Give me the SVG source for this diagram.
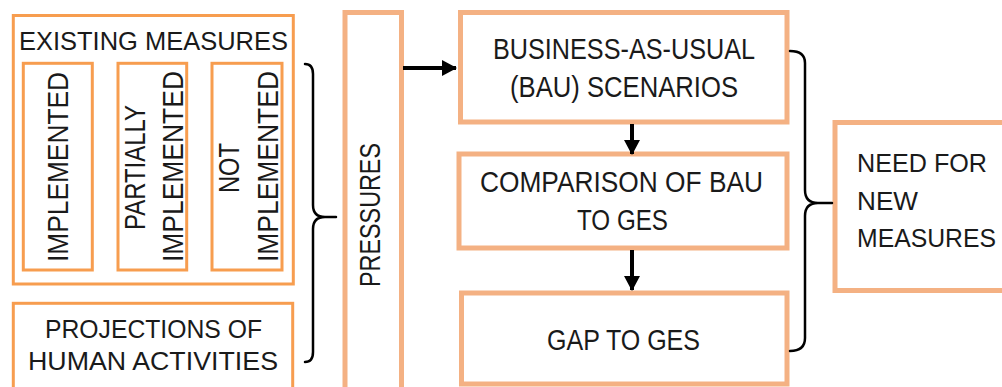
<svg xmlns="http://www.w3.org/2000/svg" width="1002" height="387" viewBox="0 0 1002 387">
<style>
.lbox{fill:#ffffff;stroke:#F79D4F;stroke-width:3}
.rbox{fill:#ffffff;stroke:#F4B183;stroke-width:5}
text{font-family:"Liberation Sans",Arial,sans-serif;fill:#1a1a1a}
.t{text-anchor:middle}
.brace{fill:none;stroke:#000000;stroke-width:2.5;stroke-linecap:round}
.arr{stroke:#000000;stroke-width:4;fill:none}
</style>
<defs>
<marker id="ah" markerUnits="userSpaceOnUse" markerWidth="16" markerHeight="18" refX="14" refY="8" orient="auto">
<path d="M0,0 L15,8 L0,16 Z" fill="#000000"/>
</marker>
</defs>
<rect width="1002" height="387" fill="#ffffff"/>

<g id="existing-measures">
<rect class="lbox" x="13.3" y="15.5" width="280" height="268.5"/>
<text class="t" x="153.5" y="50" font-size="25.5" textLength="269" lengthAdjust="spacingAndGlyphs">EXISTING MEASURES</text>
</g>
<g id="implemented">
<rect class="lbox" x="23.3" y="63.3" width="69" height="206.7"/>
<text class="t" font-size="29" textLength="190" lengthAdjust="spacingAndGlyphs" transform="translate(68,167) rotate(-90)">IMPLEMENTED</text>
</g>
<g id="partially-implemented">
<rect class="lbox" x="118" y="63.3" width="68.7" height="206.7"/>
<text class="t" font-size="29" textLength="125" lengthAdjust="spacingAndGlyphs" transform="translate(145,167.5) rotate(-90)">PARTIALLY</text>
<text class="t" font-size="29" textLength="191" lengthAdjust="spacingAndGlyphs" transform="translate(183,166.5) rotate(-90)">IMPLEMENTED</text>
</g>
<g id="not-implemented">
<rect class="lbox" x="212" y="63.3" width="70" height="206.7"/>
<text class="t" font-size="29" textLength="50" lengthAdjust="spacingAndGlyphs" transform="translate(239,168) rotate(-90)">NOT</text>
<text class="t" font-size="29" textLength="191" lengthAdjust="spacingAndGlyphs" transform="translate(278,166.5) rotate(-90)">IMPLEMENTED</text>
</g>
<g id="projections">
<rect class="lbox" x="13.3" y="303.3" width="279.4" height="100"/>
<text class="t" x="153.5" y="338" font-size="25.5" textLength="217" lengthAdjust="spacingAndGlyphs">PROJECTIONS OF</text>
<text class="t" x="153" y="370" font-size="25.5" textLength="250" lengthAdjust="spacingAndGlyphs">HUMAN ACTIVITIES</text>
</g>
<g id="pressures">
<rect class="rbox" x="345" y="12.5" width="56.5" height="400"/>
<text class="t" font-size="29" textLength="144" lengthAdjust="spacingAndGlyphs" transform="translate(380,215) rotate(-90)">PRESSURES</text>
</g>
<g id="bau-scenarios">
<rect class="rbox" x="460.5" y="12.5" width="326.5" height="109.5"/>
<text class="t" x="624" y="59" font-size="29" textLength="262" lengthAdjust="spacingAndGlyphs">BUSINESS-AS-USUAL</text>
<text class="t" x="624" y="97" font-size="29" textLength="228" lengthAdjust="spacingAndGlyphs">(BAU) SCENARIOS</text>
</g>
<g id="comparison">
<rect class="rbox" x="459" y="154" width="328" height="94"/>
<text class="t" x="621.5" y="192" font-size="29" textLength="283" lengthAdjust="spacingAndGlyphs">COMPARISON OF BAU</text>
<text class="t" x="622.5" y="230" font-size="29" textLength="91" lengthAdjust="spacingAndGlyphs">TO GES</text>
</g>
<g id="gap-to-ges">
<rect class="rbox" x="461.5" y="293" width="325.5" height="91"/>
<text class="t" x="623.5" y="350" font-size="29" textLength="153" lengthAdjust="spacingAndGlyphs">GAP TO GES</text>
</g>
<g id="need-new-measures">
<rect class="rbox" x="835" y="122.5" width="200" height="168"/>
<text x="857" y="172" font-size="25.5" textLength="130" lengthAdjust="spacingAndGlyphs">NEED FOR</text>
<text x="857" y="210" font-size="25.5" textLength="61" lengthAdjust="spacingAndGlyphs">NEW</text>
<text x="857" y="247" font-size="25.5" textLength="139" lengthAdjust="spacingAndGlyphs">MEASURES</text>
</g>

<g id="connectors">
<path class="brace" d="M305,64 Q313,64 313,74 V205 Q313,217 325,217 H336 M325,217 Q313,217 313,229 V352 Q313,362 305,362"/>
<path class="brace" d="M790,51 Q805,51 805,63 V190 Q805,203 818,203 H832 M818,203 Q805,203 805,216 V338 Q805,351 790,351"/>
<line class="arr" x1="403" y1="68" x2="456" y2="68" marker-end="url(#ah)"/>
<line class="arr" x1="632" y1="124" x2="632" y2="154" marker-end="url(#ah)"/>
<line class="arr" x1="632" y1="250" x2="632" y2="290" marker-end="url(#ah)"/>
</g>
</svg>
